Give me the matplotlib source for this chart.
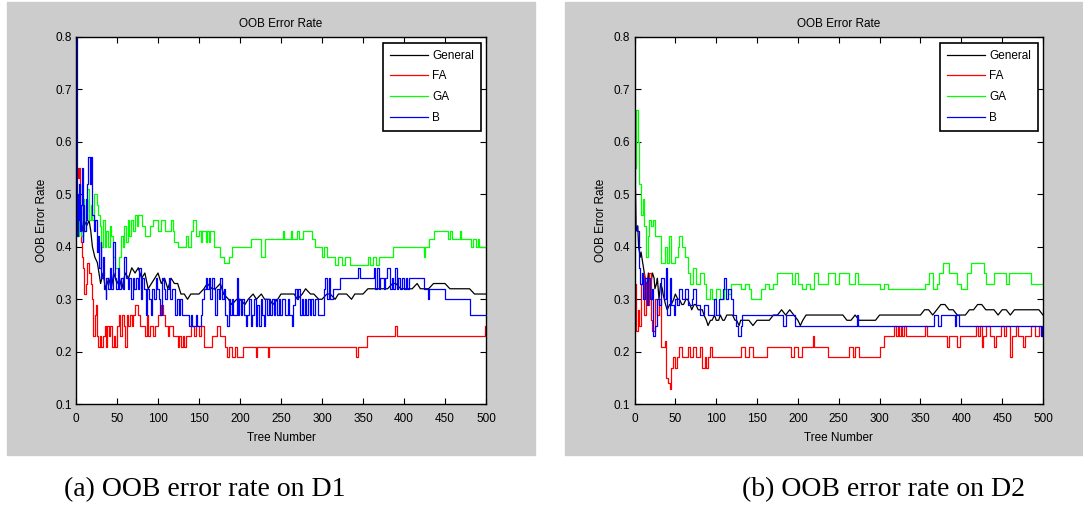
import matplotlib.pyplot as plt
import numpy as np
from matplotlib.patches import Rectangle

plt.rcParams['font.family'] = ['Liberation Sans', 'DejaVu Sans']

legend_labels = ["General", "FA", "GA", "B"]
x_ticks = list(range(0, 501, 50))
y_ticks = [0.1, 0.2, 0.3, 0.4, 0.5, 0.6, 0.7, 0.8]
panel_title = "OOB Error Rate"
captions = ["(a) OOB error rate on D1", "(b) OOB error rate on D2"]

# (tree number, OOB error) points; FA/GA/B hold their value until the next point
d1_general = [(1, 0.48), (3, 0.44), (5, 0.47), (8, 0.43), (10, 0.45), (13, 0.44), (16, 0.45), (18, 0.43),
              (20, 0.40), (23, 0.38), (26, 0.37), (28, 0.35), (30, 0.33), (33, 0.35), (36, 0.32), (40, 0.34),
              (43, 0.32), (46, 0.35), (50, 0.33), (53, 0.34), (56, 0.32), (60, 0.35), (64, 0.34), (68, 0.36),
              (72, 0.35), (76, 0.36), (80, 0.34), (84, 0.35), (88, 0.32), (92, 0.33), (96, 0.34), (100, 0.35),
              (104, 0.33), (108, 0.34), (112, 0.32), (116, 0.34), (120, 0.33), (124, 0.33), (128, 0.31),
              (132, 0.31), (136, 0.30), (140, 0.31), (146, 0.31), (150, 0.31), (156, 0.32), (160, 0.33),
              (166, 0.32), (170, 0.32), (176, 0.33), (180, 0.31), (186, 0.30), (190, 0.29), (196, 0.30),
              (200, 0.30), (206, 0.29), (210, 0.30), (216, 0.31), (220, 0.30), (226, 0.31), (230, 0.30),
              (236, 0.30), (240, 0.29), (246, 0.30), (250, 0.31), (256, 0.31), (260, 0.31), (266, 0.31),
              (270, 0.30), (276, 0.31), (280, 0.32), (286, 0.31), (290, 0.31), (296, 0.30), (300, 0.30),
              (306, 0.31), (310, 0.31), (316, 0.30), (320, 0.31), (326, 0.31), (330, 0.31), (336, 0.30),
              (340, 0.31), (346, 0.31), (350, 0.31), (356, 0.32), (360, 0.32), (366, 0.32), (370, 0.32),
              (376, 0.32), (380, 0.32), (386, 0.33), (390, 0.33), (396, 0.32), (400, 0.32), (406, 0.32),
              (410, 0.32), (416, 0.33), (420, 0.32), (426, 0.32), (430, 0.32), (436, 0.33), (440, 0.33),
              (446, 0.33), (450, 0.33), (456, 0.32), (460, 0.32), (466, 0.32), (470, 0.32), (476, 0.32),
              (480, 0.32), (486, 0.31), (490, 0.31), (496, 0.31), (500, 0.31)]
d1_fa = [(1, 0.55), (3, 0.53), (4, 0.55), (5, 0.45), (6, 0.41), (7, 0.38), (8, 0.36), (10, 0.31), (12, 0.33),
         (14, 0.37), (16, 0.35), (18, 0.33), (20, 0.30), (21, 0.23), (23, 0.27), (24, 0.29), (26, 0.23),
         (27, 0.21), (29, 0.23), (31, 0.21), (33, 0.23), (35, 0.25), (36, 0.21), (38, 0.25), (40, 0.23),
         (42, 0.25), (44, 0.21), (46, 0.23), (48, 0.21), (50, 0.25), (52, 0.27), (54, 0.23), (56, 0.27),
         (58, 0.25), (60, 0.21), (62, 0.27), (64, 0.25), (66, 0.27), (68, 0.25), (70, 0.27), (72, 0.29),
         (76, 0.27), (78, 0.25), (84, 0.23), (86, 0.27), (88, 0.23), (90, 0.25), (94, 0.23), (96, 0.25),
         (100, 0.27), (104, 0.29), (106, 0.27), (108, 0.25), (112, 0.23), (114, 0.25), (118, 0.23),
         (124, 0.21), (126, 0.23), (128, 0.21), (130, 0.23), (132, 0.21), (134, 0.23), (140, 0.25),
         (144, 0.23), (146, 0.25), (150, 0.23), (152, 0.25), (156, 0.21), (166, 0.23), (172, 0.25),
         (176, 0.23), (182, 0.21), (184, 0.19), (187, 0.21), (190, 0.19), (194, 0.21), (196, 0.19),
         (204, 0.21), (220, 0.19), (221, 0.21), (234, 0.19), (235, 0.21), (342, 0.19), (344, 0.21),
         (355, 0.23), (389, 0.25), (391, 0.23), (499, 0.25)]
d1_ga = [(1, 0.48), (2, 0.42), (4, 0.47), (6, 0.42), (8, 0.49), (10, 0.43), (12, 0.47), (14, 0.51), (16, 0.45),
         (18, 0.48), (20, 0.45), (22, 0.50), (25, 0.48), (27, 0.46), (29, 0.44), (31, 0.40), (33, 0.45),
         (35, 0.40), (37, 0.43), (39, 0.40), (41, 0.44), (43, 0.42), (45, 0.38), (48, 0.36), (52, 0.38),
         (55, 0.42), (57, 0.40), (59, 0.44), (61, 0.41), (63, 0.45), (65, 0.42), (67, 0.45), (70, 0.43),
         (72, 0.46), (74, 0.44), (76, 0.46), (80, 0.44), (84, 0.42), (90, 0.44), (94, 0.45), (100, 0.43),
         (104, 0.45), (108, 0.43), (116, 0.45), (118, 0.43), (120, 0.41), (124, 0.40), (134, 0.42),
         (137, 0.40), (140, 0.43), (143, 0.45), (146, 0.42), (150, 0.43), (152, 0.41), (154, 0.43),
         (158, 0.41), (160, 0.43), (162, 0.41), (164, 0.43), (168, 0.40), (176, 0.38), (180, 0.37),
         (186, 0.38), (190, 0.40), (214, 0.415), (226, 0.38), (230, 0.415), (252, 0.43), (254, 0.415),
         (262, 0.43), (264, 0.415), (270, 0.43), (272, 0.415), (277, 0.43), (288, 0.415), (292, 0.40),
         (300, 0.38), (302, 0.40), (306, 0.38), (316, 0.365), (320, 0.38), (324, 0.365), (328, 0.38),
         (334, 0.365), (356, 0.38), (358, 0.365), (362, 0.38), (366, 0.365), (370, 0.38), (386, 0.40),
         (424, 0.38), (426, 0.40), (430, 0.415), (437, 0.43), (454, 0.415), (456, 0.43), (458, 0.415),
         (468, 0.43), (470, 0.415), (482, 0.40), (484, 0.415), (488, 0.40), (490, 0.415), (492, 0.40)]
d1_b = [(0, 0.80), (1, 0.42), (2, 0.50), (3, 0.45), (4, 0.52), (5, 0.43), (6, 0.48), (7, 0.55), (8, 0.41),
        (9, 0.48), (10, 0.43), (12, 0.49), (13, 0.45), (14, 0.52), (15, 0.57), (17, 0.52), (18, 0.57),
        (19, 0.48), (20, 0.46), (22, 0.43), (23, 0.45), (25, 0.39), (27, 0.42), (28, 0.36), (30, 0.41),
        (31, 0.34), (33, 0.38), (34, 0.32), (36, 0.30), (37, 0.34), (39, 0.32), (41, 0.36), (43, 0.32),
        (45, 0.41), (47, 0.34), (49, 0.32), (51, 0.36), (53, 0.32), (55, 0.34), (57, 0.32), (59, 0.38),
        (61, 0.34), (63, 0.32), (65, 0.34), (67, 0.30), (69, 0.34), (71, 0.32), (73, 0.34), (75, 0.32),
        (77, 0.36), (79, 0.30), (81, 0.34), (83, 0.32), (85, 0.27), (87, 0.32), (89, 0.30), (91, 0.27),
        (93, 0.32), (95, 0.30), (97, 0.34), (99, 0.32), (101, 0.30), (103, 0.27), (105, 0.34), (107, 0.32),
        (109, 0.30), (111, 0.32), (113, 0.34), (115, 0.30), (117, 0.32), (121, 0.27), (123, 0.30),
        (125, 0.27), (127, 0.30), (129, 0.27), (138, 0.25), (140, 0.27), (142, 0.25), (146, 0.27),
        (148, 0.25), (152, 0.27), (154, 0.30), (156, 0.32), (158, 0.34), (160, 0.32), (162, 0.34),
        (164, 0.30), (166, 0.34), (168, 0.32), (170, 0.27), (172, 0.32), (174, 0.30), (176, 0.34),
        (178, 0.30), (180, 0.32), (182, 0.27), (184, 0.25), (186, 0.30), (188, 0.27), (190, 0.30),
        (192, 0.27), (196, 0.34), (197, 0.27), (199, 0.30), (201, 0.27), (203, 0.30), (205, 0.27),
        (207, 0.25), (209, 0.27), (211, 0.30), (213, 0.25), (215, 0.27), (217, 0.30), (219, 0.25),
        (221, 0.29), (223, 0.25), (225, 0.30), (227, 0.27), (229, 0.25), (231, 0.30), (233, 0.27),
        (235, 0.30), (237, 0.27), (239, 0.30), (241, 0.27), (243, 0.30), (245, 0.27), (247, 0.30),
        (249, 0.27), (251, 0.30), (255, 0.27), (258, 0.30), (260, 0.27), (263, 0.25), (265, 0.29),
        (267, 0.32), (269, 0.30), (271, 0.32), (273, 0.27), (275, 0.30), (277, 0.27), (279, 0.30),
        (281, 0.27), (283, 0.30), (285, 0.27), (287, 0.30), (289, 0.27), (291, 0.30), (295, 0.27),
        (302, 0.32), (304, 0.34), (306, 0.30), (308, 0.34), (310, 0.30), (313, 0.32), (322, 0.34),
        (344, 0.36), (346, 0.34), (363, 0.36), (365, 0.32), (367, 0.36), (369, 0.32), (371, 0.34),
        (375, 0.32), (377, 0.34), (379, 0.36), (383, 0.32), (385, 0.34), (387, 0.32), (389, 0.36),
        (391, 0.32), (393, 0.34), (395, 0.32), (398, 0.34), (400, 0.32), (402, 0.34), (404, 0.32),
        (406, 0.34), (424, 0.32), (429, 0.30), (431, 0.32), (450, 0.30), (481, 0.27)]

d2_general = [(1, 0.52), (2, 0.43), (4, 0.44), (5, 0.40), (7, 0.38), (8, 0.39), (10, 0.37), (12, 0.35),
              (14, 0.33), (15, 0.32), (17, 0.35), (18, 0.34), (20, 0.33), (22, 0.35), (24, 0.34), (25, 0.32),
              (27, 0.33), (28, 0.34), (30, 0.30), (32, 0.33), (34, 0.32), (35, 0.31), (38, 0.29), (40, 0.28),
              (43, 0.29), (45, 0.29), (48, 0.30), (50, 0.31), (53, 0.30), (55, 0.30), (58, 0.29), (60, 0.29),
              (63, 0.30), (65, 0.30), (68, 0.29), (70, 0.28), (73, 0.29), (75, 0.29), (78, 0.28), (80, 0.28),
              (83, 0.28), (85, 0.27), (88, 0.26), (90, 0.25), (93, 0.26), (95, 0.26), (98, 0.27), (100, 0.26),
              (103, 0.26), (105, 0.27), (108, 0.26), (110, 0.26), (113, 0.27), (115, 0.27), (118, 0.27),
              (120, 0.27), (123, 0.26), (125, 0.26), (128, 0.25), (130, 0.26), (135, 0.26), (140, 0.26),
              (145, 0.25), (150, 0.26), (155, 0.26), (160, 0.26), (165, 0.26), (170, 0.27), (175, 0.27),
              (180, 0.28), (185, 0.27), (190, 0.28), (195, 0.27), (200, 0.26), (203, 0.25), (206, 0.26),
              (210, 0.27), (215, 0.27), (220, 0.27), (225, 0.27), (230, 0.27), (235, 0.27), (240, 0.27),
              (245, 0.27), (250, 0.27), (255, 0.27), (260, 0.26), (265, 0.26), (270, 0.27), (275, 0.26),
              (280, 0.26), (285, 0.26), (290, 0.26), (295, 0.26), (300, 0.27), (305, 0.27), (310, 0.27),
              (315, 0.27), (320, 0.27), (325, 0.27), (330, 0.27), (335, 0.27), (340, 0.27), (345, 0.27),
              (350, 0.27), (355, 0.28), (360, 0.28), (365, 0.27), (370, 0.28), (375, 0.29), (380, 0.29),
              (385, 0.28), (390, 0.28), (395, 0.27), (400, 0.27), (405, 0.27), (410, 0.28), (415, 0.28),
              (420, 0.29), (425, 0.29), (430, 0.28), (435, 0.28), (440, 0.28), (445, 0.27), (450, 0.28),
              (455, 0.28), (460, 0.27), (465, 0.28), (470, 0.28), (475, 0.28), (480, 0.28), (485, 0.28),
              (490, 0.28), (495, 0.28), (500, 0.27)]
d2_fa = [(1, 0.33), (2, 0.24), (4, 0.28), (6, 0.25), (8, 0.33), (10, 0.35), (12, 0.27), (14, 0.33), (16, 0.29),
         (18, 0.35), (20, 0.26), (22, 0.24), (25, 0.30), (28, 0.27), (30, 0.30), (32, 0.21), (35, 0.21),
         (37, 0.22), (39, 0.15), (41, 0.14), (43, 0.13), (45, 0.17), (47, 0.19), (50, 0.17), (52, 0.19),
         (55, 0.21), (58, 0.19), (65, 0.21), (68, 0.19), (72, 0.21), (75, 0.19), (80, 0.21), (83, 0.17),
         (86, 0.19), (88, 0.17), (90, 0.19), (92, 0.21), (95, 0.19), (130, 0.21), (135, 0.19), (140, 0.21),
         (145, 0.19), (162, 0.21), (190, 0.21), (192, 0.19), (195, 0.21), (200, 0.19), (205, 0.21),
         (218, 0.23), (220, 0.21), (237, 0.19), (262, 0.21), (267, 0.19), (270, 0.21), (275, 0.19),
         (300, 0.21), (305, 0.23), (318, 0.25), (320, 0.23), (322, 0.25), (324, 0.23), (326, 0.25),
         (328, 0.23), (330, 0.25), (332, 0.23), (355, 0.25), (358, 0.23), (383, 0.21), (385, 0.23),
         (395, 0.21), (398, 0.23), (418, 0.25), (420, 0.23), (423, 0.25), (425, 0.21), (427, 0.23),
         (430, 0.25), (435, 0.23), (440, 0.21), (442, 0.23), (448, 0.25), (452, 0.23), (455, 0.25),
         (460, 0.19), (462, 0.23), (467, 0.25), (470, 0.23), (475, 0.21), (478, 0.23), (485, 0.25),
         (490, 0.23), (495, 0.25), (498, 0.23)]
d2_ga = [(1, 0.55), (2, 0.66), (4, 0.60), (6, 0.52), (8, 0.46), (10, 0.49), (12, 0.44), (14, 0.38), (16, 0.42),
         (18, 0.45), (20, 0.44), (23, 0.45), (25, 0.42), (33, 0.37), (37, 0.40), (40, 0.37), (42, 0.42),
         (45, 0.37), (50, 0.38), (53, 0.40), (55, 0.42), (58, 0.40), (62, 0.38), (65, 0.35), (68, 0.33),
         (72, 0.36), (75, 0.33), (80, 0.35), (85, 0.33), (88, 0.30), (92, 0.32), (95, 0.30), (100, 0.32),
         (105, 0.30), (110, 0.32), (115, 0.31), (118, 0.33), (130, 0.32), (135, 0.33), (140, 0.32),
         (143, 0.30), (155, 0.32), (160, 0.33), (165, 0.32), (170, 0.33), (175, 0.35), (193, 0.33),
         (197, 0.35), (200, 0.33), (205, 0.32), (210, 0.33), (215, 0.32), (220, 0.35), (225, 0.33),
         (237, 0.35), (245, 0.33), (250, 0.35), (262, 0.33), (270, 0.35), (274, 0.33), (300, 0.32),
         (305, 0.33), (310, 0.32), (355, 0.33), (360, 0.35), (365, 0.32), (370, 0.33), (373, 0.35),
         (378, 0.37), (385, 0.35), (395, 0.33), (400, 0.32), (407, 0.35), (412, 0.37), (428, 0.35),
         (430, 0.33), (440, 0.35), (455, 0.33), (458, 0.35), (485, 0.33)]
d2_b = [(0, 0.56), (1, 0.44), (3, 0.43), (5, 0.36), (7, 0.33), (9, 0.35), (11, 0.30), (13, 0.34), (15, 0.29),
        (17, 0.34), (19, 0.30), (21, 0.32), (23, 0.23), (25, 0.25), (27, 0.30), (30, 0.29), (33, 0.34),
        (36, 0.30), (38, 0.36), (40, 0.27), (43, 0.34), (45, 0.29), (48, 0.27), (50, 0.30), (52, 0.29),
        (55, 0.32), (58, 0.30), (62, 0.32), (65, 0.29), (70, 0.30), (72, 0.32), (75, 0.29), (80, 0.27),
        (85, 0.29), (90, 0.27), (97, 0.30), (100, 0.27), (103, 0.30), (108, 0.32), (110, 0.34),
        (112, 0.30), (115, 0.32), (118, 0.30), (120, 0.27), (124, 0.25), (127, 0.23), (130, 0.25),
        (132, 0.27), (180, 0.27), (182, 0.25), (185, 0.27), (197, 0.25), (272, 0.27), (274, 0.25),
        (366, 0.27), (372, 0.25), (375, 0.27), (392, 0.25), (394, 0.27), (397, 0.25), (497, 0.23),
        (499, 0.25)]

panels = [
    [d1_general, d1_fa, d1_ga, d1_b],
    [d2_general, d2_fa, d2_ga, d2_b],
]


def series(points, last=500):
    x = [p[0] for p in points]
    y = [p[1] for p in points]
    if x[-1] < last:
        x.append(last)
        y.append(y[-1])
    return np.array(x), np.array(y)


def draw_panel(ax, data):
    colors = ["black", "#ff0000", "#00ff00", "#0000ff"]
    for i, (points, color, label) in enumerate(zip(data, colors, legend_labels)):
        x, y = series(points)
        if i == 0:
            ax.plot(x, y, color=color, lw=0.9, label=label)
        else:
            ax.step(x, y, where="post", color=color, lw=0.9, label=label)

    ax.set_xlim(0, 500)
    ax.set_ylim(0.1, 0.8)
    ax.set_xticks(x_ticks)
    ax.set_yticks(y_ticks)
    ax.set_yticklabels([f"{v:g}" for v in y_ticks])
    ax.tick_params(direction="in", length=4, width=0.8, top=True, right=True,
                   labelsize=8.5, colors="black")
    ax.tick_params(axis="x", pad=6)
    ax.tick_params(axis="y", pad=3)
    for s in ax.spines.values():
        s.set_linewidth(1.0)
    ax.set_title(panel_title, fontsize=8.5, pad=7)
    ax.set_xlabel("Tree Number", fontsize=8.5, labelpad=5)
    ax.set_ylabel("OOB Error Rate", fontsize=8.5, labelpad=5)
    leg = ax.legend(loc="upper right", bbox_to_anchor=(0.9885, 0.984), borderaxespad=0,
                    fancybox=False, framealpha=1, edgecolor="black", fontsize=8.5,
                    handlelength=3.2, handletextpad=0.4, labelspacing=0.74, borderpad=0.6)
    leg.get_frame().set_linewidth(1.2)


def main():
    fig = plt.figure(figsize=(10.83, 5.08), dpi=100)
    fig.patch.set_facecolor("white")

    for x0, w in [(7, 528), (565, 518)]:
        fig.add_artist(Rectangle((x0 / 1083, 53 / 508), w / 1083, 453 / 508,
                                 transform=fig.transFigure, color="#cccccc", zorder=-10))

    ax1 = fig.add_axes([76 / 1083, 103.7 / 508, 410 / 1083, 367.6 / 508])
    ax2 = fig.add_axes([634.5 / 1083, 103.7 / 508, 408.5 / 1083, 367.6 / 508])
    for ax, data in zip([ax1, ax2], panels):
        draw_panel(ax, data)

    for cx, text in zip([205, 883], captions):
        fig.text(cx / 1083, 1 - 490 / 508, text, ha="center", va="center",
                 fontsize=20, family=["Liberation Serif", "DejaVu Serif"])

    fig.savefig("out.png", dpi=100)


if __name__ == "__main__":
    main()
